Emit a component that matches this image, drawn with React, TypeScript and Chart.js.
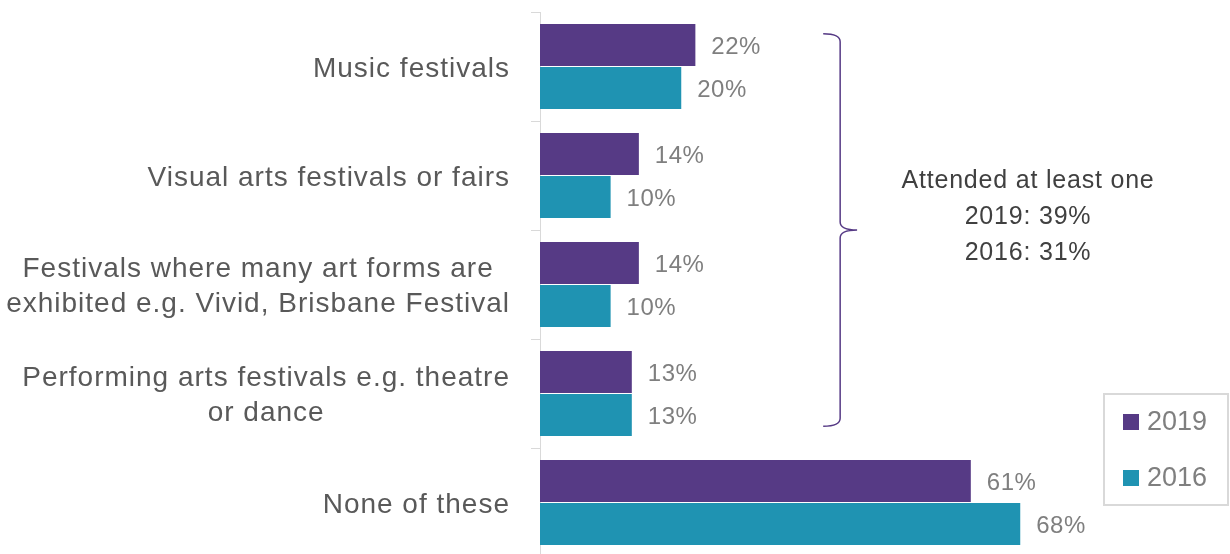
import React, { useEffect, useRef } from "react";
import { Chart, registerables } from "chart.js";

Chart.register(...registerables);

// Categories (multi-line labels are split into lines)
const categories: string[][] = [
  ["Music festivals"],
  ["Visual arts festivals or fairs"],
  ["Festivals where many art forms are", "exhibited e.g. Vivid, Brisbane Festival"],
  ["Performing arts festivals e.g. theatre", "or dance"],
  ["None of these"],
];

const seriesNames = ["2019", "2016"];
const values2019 = [22, 14, 14, 13, 61];
const values2016 = [20, 10, 10, 13, 68];

const annotationLines = ["Attended at least one", "2019: 39%", "2016: 31%"];

const PURPLE = "#563a85";
const TEAL = "#1f93b2";
const FONT = "'Liberation Sans', Arial, sans-serif";

// Right-aligned block of centred category label lines
const categoryLabelPlugin = {
  id: "categoryLabels",
  afterDraw(chart: any) {
    const { ctx, scales } = chart;
    const y = scales.y;
    const rightEdge = y.right - 30;
    ctx.save();
    ctx.font = `28px ${FONT}`;
    (ctx as any).letterSpacing = "1px";
    ctx.fillStyle = "#595959";
    ctx.textAlign = "center";
    ctx.textBaseline = "middle";
    const lineH = 35;
    categories.forEach((lines, i) => {
      const cy = y.getPixelForValue(i) + 2.5;
      const maxW = Math.max(...lines.map((l) => ctx.measureText(l).width));
      const cx = rightEdge - maxW / 2;
      const startY = cy - ((lines.length - 1) * lineH) / 2;
      lines.forEach((l, k) => ctx.fillText(l, cx, startY + k * lineH));
    });
    ctx.restore();
  },
};

// Percentage labels at the end of every bar
const valueLabelPlugin = {
  id: "valueLabels",
  afterDatasetsDraw(chart: any) {
    const { ctx } = chart;
    ctx.save();
    ctx.font = `24px ${FONT}`;
    (ctx as any).letterSpacing = "0.5px";
    ctx.fillStyle = "#7f7f7f";
    ctx.textAlign = "left";
    ctx.textBaseline = "middle";
    chart.data.datasets.forEach((ds: any, di: number) => {
      const meta = chart.getDatasetMeta(di);
      meta.data.forEach((el: any, i: number) => {
        ctx.fillText(`${ds.data[i]}%`, el.x + 16, el.y + 2);
      });
    });
    ctx.restore();
  },
};

// Curly brace grouping the festival categories, with its summary text
const bracePlugin = {
  id: "brace",
  afterDraw(chart: any) {
    const { ctx, scales } = chart;
    const x = scales.x;
    const y = scales.y;
    const top = y.getPixelForValue(-0.3);
    const bottom = y.getPixelForValue(3.3);
    const mid = (top + bottom) / 2;
    const xl = x.getPixelForValue(40.1);
    const xs = x.getPixelForValue(42.5);
    const xp = x.getPixelForValue(44.9);
    ctx.save();
    ctx.strokeStyle = PURPLE;
    ctx.lineWidth = 1.5;
    ctx.beginPath();
    ctx.moveTo(xl, top);
    ctx.quadraticCurveTo(xs, top, xs, top + 8);
    ctx.lineTo(xs, mid - 8);
    ctx.quadraticCurveTo(xs, mid, xp, mid);
    ctx.quadraticCurveTo(xs, mid, xs, mid + 8);
    ctx.lineTo(xs, bottom - 8);
    ctx.quadraticCurveTo(xs, bottom, xl, bottom);
    ctx.stroke();

    ctx.font = `25px ${FONT}`;
    (ctx as any).letterSpacing = "0.8px";
    ctx.fillStyle = "#404040";
    ctx.textAlign = "center";
    ctx.textBaseline = "middle";
    const tx = x.getPixelForValue(69.1);
    const ty = mid - 36 * 1.35;
    annotationLines.forEach((l, k) => ctx.fillText(l, tx, ty + k * 36));
    ctx.restore();
  },
};

// Boxed legend in the lower right corner
const legendBoxPlugin = {
  id: "legendBox",
  afterDraw(chart: any) {
    const { ctx, chartArea } = chart;
    const bx = chartArea.right - 126;
    const by = 394;
    ctx.save();
    ctx.strokeStyle = "#d9d9d9";
    ctx.lineWidth = 2;
    ctx.strokeRect(bx, by, 124, 111);
    ctx.font = `27px ${FONT}`;
    ctx.textAlign = "left";
    ctx.textBaseline = "middle";
    const colors = [PURPLE, TEAL];
    seriesNames.forEach((name, k) => {
      const cy = by + 28 + k * 56;
      ctx.fillStyle = colors[k];
      ctx.fillRect(bx + 19, cy - 8, 16, 16);
      ctx.fillStyle = "#7f7f7f";
      ctx.fillText(name, bx + 43, cy + 1);
    });
    ctx.restore();
  },
};

export default function App() {
  const canvasRef = useRef<HTMLCanvasElement | null>(null);

  useEffect(() => {
    if (!canvasRef.current) return;
    const chart = new Chart(canvasRef.current, {
      type: "bar",
      data: {
        labels: categories.map((c) => c.join(" ")),
        datasets: [
          {
            label: seriesNames[0],
            data: values2019,
            backgroundColor: PURPLE,
            barPercentage: 0.98,
            categoryPercentage: 0.79,
          },
          {
            label: seriesNames[1],
            data: values2016,
            backgroundColor: TEAL,
            barPercentage: 0.98,
            categoryPercentage: 0.79,
          },
        ],
      },
      options: {
        indexAxis: "y",
        responsive: false,
        animation: false,
        layout: { padding: { top: 12, bottom: 0, left: 0, right: 0 } },
        plugins: {
          legend: { display: false },
          tooltip: { enabled: false },
        },
        scales: {
          x: {
            display: false,
            min: 0,
            max: 97.7,
          },
          y: {
            position: "left",
            afterFit(scale: any) {
              scale.width = 540;
            },
            ticks: { display: false },
            grid: {
              offset: true,
              drawOnChartArea: false,
              drawTicks: true,
              tickLength: 9,
              color: "#d9d9d9",
            },
            border: { display: true, color: "#d9d9d9", width: 1 },
          },
        },
      },
      plugins: [categoryLabelPlugin, valueLabelPlugin, bracePlugin, legendBoxPlugin],
    });
    return () => chart.destroy();
  }, []);

  return (
    <div
      style={{
        position: "fixed",
        left: 0,
        top: 0,
        width: 1230,
        height: 554,
        overflow: "hidden",
        background: "#ffffff",
      }}
    >
      <canvas ref={canvasRef} width={1230} height={557} style={{ display: "block" }} />
    </div>
  );
}
